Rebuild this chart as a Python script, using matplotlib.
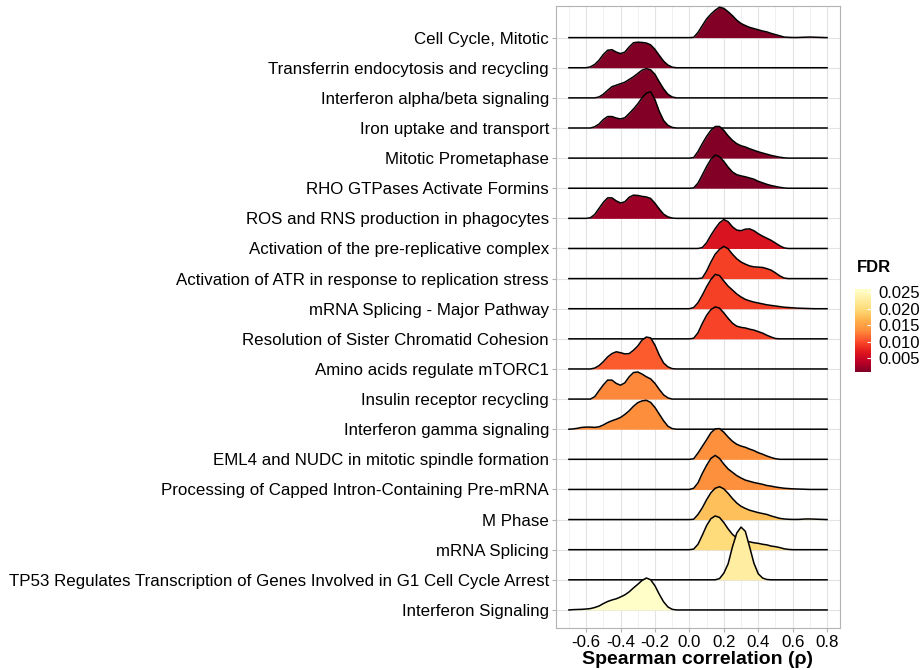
import numpy as np
import matplotlib as mpl
import matplotlib.pyplot as plt

mpl.rcParams['font.family'] = ['Liberation Sans', 'DejaVu Sans']
mpl.rcParams['axes.unicode_minus'] = False

# pathways, top to bottom
pathways = [
    "Cell Cycle, Mitotic",
    "Transferrin endocytosis and recycling",
    "Interferon alpha/beta signaling",
    "Iron uptake and transport",
    "Mitotic Prometaphase",
    "RHO GTPases Activate Formins",
    "ROS and RNS production in phagocytes",
    "Activation of the pre-replicative complex",
    "Activation of ATR in response to replication stress",
    "mRNA Splicing - Major Pathway",
    "Resolution of Sister Chromatid Cohesion",
    "Amino acids regulate mTORC1",
    "Insulin receptor recycling",
    "Interferon gamma signaling",
    "EML4 and NUDC in mitotic spindle formation",
    "Processing of Capped Intron-Containing Pre-mRNA",
    "M Phase",
    "mRNA Splicing",
    "TP53 Regulates Transcription of Genes Involved in G1 Cell Cycle Arrest",
    "Interferon Signaling",
]

fdr = [0.0009, 0.0009, 0.0009, 0.0009, 0.0009, 0.0009, 0.0023, 0.0063,
       0.0094, 0.0094, 0.0096, 0.0109, 0.0132, 0.0134, 0.0136, 0.0136,
       0.0177, 0.0200, 0.0229, 0.0258]

# density heights on a 0.025 grid of rho, each list starting at dens_start
step = 0.025
rho_min, rho_max = -0.7, 0.8
dens_start = [0.0, -0.6, -0.55, -0.575, 0.0, 0.0, -0.6, 0.05, 0.05, 0.0,
              0.0, -0.575, -0.575, -0.7, 0.0, 0.0, 0.0, 0.0, 0.15, -0.7]
dens = [
    [0, 0.01, 0.17, 0.40, 0.62, 0.78, 0.91, 1.01, 0.97, 0.86, 0.73, 0.58, 0.47, 0.40, 0.34, 0.30, 0.26,
     0.22, 0.19, 0.14, 0.10, 0.06, 0.02, 0.01, 0.005, 0.005, 0.01, 0.015, 0.02, 0.015, 0.01, 0.005, 0],
    [0, 0.03, 0.11, 0.25, 0.44, 0.58, 0.60, 0.52, 0.47, 0.52, 0.69, 0.83, 0.85, 0.84, 0.82, 0.76, 0.61,
     0.41, 0.22, 0.09, 0.02, 0],
    [0, 0.03, 0.12, 0.25, 0.37, 0.42, 0.47, 0.52, 0.61, 0.70, 0.81, 0.92, 0.97, 0.93, 0.78, 0.53, 0.30,
     0.12, 0.03, 0],
    [0, 0.04, 0.13, 0.28, 0.38, 0.38, 0.33, 0.30, 0.34, 0.48, 0.63, 0.80, 1.00, 1.16, 1.20, 0.94, 0.55,
     0.25, 0.09, 0.02, 0],
    [0, 0.02, 0.22, 0.48, 0.72, 0.92, 1.05, 1.05, 0.92, 0.74, 0.59, 0.48, 0.41, 0.37, 0.31, 0.26, 0.21,
     0.17, 0.13, 0.09, 0.06, 0.03, 0.01, 0],
    [0, 0.01, 0.17, 0.44, 0.72, 0.96, 1.10, 1.05, 0.89, 0.70, 0.54, 0.45, 0.41, 0.38, 0.34, 0.30, 0.23,
     0.18, 0.13, 0.09, 0.06, 0.03, 0.01, 0],
    [0, 0.02, 0.13, 0.33, 0.53, 0.68, 0.68, 0.58, 0.51, 0.55, 0.70, 0.77, 0.76, 0.73, 0.71, 0.66, 0.50,
     0.31, 0.14, 0.05, 0.01, 0],
    [0, 0.03, 0.19, 0.44, 0.66, 0.85, 0.96, 0.89, 0.72, 0.61, 0.59, 0.64, 0.65, 0.59, 0.49, 0.41, 0.34,
     0.27, 0.18, 0.09, 0.02, 0],
    [0, 0.02, 0.25, 0.55, 0.81, 0.97, 1.07, 0.99, 0.81, 0.66, 0.55, 0.48, 0.42, 0.39, 0.38, 0.37, 0.33,
     0.28, 0.19, 0.09, 0.02, 0],
    [0, 0.04, 0.20, 0.45, 0.73, 0.97, 1.14, 1.10, 0.92, 0.75, 0.62, 0.49, 0.39, 0.31, 0.26, 0.22, 0.19,
     0.16, 0.13, 0.11, 0.09, 0.07, 0.05, 0.04, 0.03, 0.02, 0.015, 0.01, 0.005, 0],
    [0, 0.02, 0.20, 0.51, 0.78, 0.97, 1.06, 1.02, 0.86, 0.68, 0.52, 0.42, 0.38, 0.36, 0.32, 0.29, 0.24,
     0.19, 0.12, 0.06, 0.01, 0],
    [0, 0.03, 0.11, 0.24, 0.40, 0.51, 0.57, 0.54, 0.50, 0.51, 0.62, 0.76, 0.96, 1.06, 1.03, 0.79, 0.46,
     0.20, 0.07, 0.01, 0],
    [0, 0.08, 0.28, 0.47, 0.63, 0.63, 0.52, 0.46, 0.54, 0.74, 0.88, 0.90, 0.83, 0.74, 0.67, 0.52, 0.32,
     0.14, 0.04, 0],
    [0, 0.01, 0.03, 0.06, 0.07, 0.07, 0.06, 0.08, 0.14, 0.22, 0.28, 0.33, 0.39, 0.49, 0.61, 0.76, 0.88,
     0.94, 0.96, 0.89, 0.72, 0.50, 0.28, 0.10, 0.02, 0],
    [0, 0.02, 0.21, 0.43, 0.65, 0.88, 1.01, 1.02, 0.90, 0.74, 0.60, 0.50, 0.44, 0.40, 0.34, 0.29, 0.22,
     0.17, 0.11, 0.06, 0.02, 0],
    [0, 0.04, 0.22, 0.53, 0.80, 1.03, 1.13, 1.03, 0.84, 0.68, 0.57, 0.46, 0.38, 0.31, 0.27, 0.23, 0.20,
     0.17, 0.13, 0.11, 0.08, 0.06, 0.04, 0.03, 0.02, 0.015, 0.01, 0.005, 0],
    [0, 0.01, 0.17, 0.39, 0.66, 0.89, 1.04, 1.09, 1.02, 0.87, 0.70, 0.55, 0.44, 0.37, 0.31, 0.27, 0.23,
     0.20, 0.17, 0.12, 0.08, 0.04, 0.02, 0.01, 0.005, 0.005, 0.01, 0.02, 0.02, 0.015, 0.01, 0.005, 0],
    [0, 0.02, 0.18, 0.48, 0.80, 1.03, 1.12, 1.07, 0.90, 0.69, 0.51, 0.39, 0.31, 0.28, 0.26, 0.23, 0.21,
     0.18, 0.16, 0.12, 0.10, 0.07, 0.03, 0.01, 0],
    [0, 0.04, 0.22, 0.53, 1.09, 1.55, 1.75, 1.61, 1.09, 0.55, 0.20, 0.06, 0.01, 0],
    [0, 0.01, 0.015, 0.02, 0.03, 0.045, 0.08, 0.13, 0.21, 0.28, 0.33, 0.37, 0.43, 0.50, 0.60, 0.73, 0.85,
     0.98, 1.06, 1.00, 0.80, 0.52, 0.27, 0.10, 0.02, 0],
]

xticks = [-0.6, -0.4, -0.2, 0.0, 0.2, 0.4, 0.6, 0.8]
fdr_ticks = [0.005, 0.010, 0.015, 0.020, 0.025]
fdr_lim = (0.0008, 0.026)

grid = np.round(np.arange(rho_min, rho_max + step / 2, step), 3)
n = len(pathways)

dpi = 100
fig = plt.figure(figsize=(923 / dpi, 670 / dpi), dpi=dpi)
ax = fig.add_axes([556 / 923, 1 - 628 / 670, 284 / 923, 622 / 670])

cmap = plt.get_cmap('YlOrRd_r')
norm = mpl.colors.Normalize(*fdr_lim)

# lower ridges are drawn over the ones above them
for k in range(n):
    base = n - 1 - k
    h = np.zeros(len(grid))
    i0 = int(round((dens_start[k] - rho_min) / step))
    h[i0:i0 + len(dens[k])] = dens[k]
    z = 10 + 2 * k
    ax.fill_between(grid, base, base + h, color=cmap(norm(fdr[k])), lw=0, zorder=z)
    ax.plot(grid, base + h, color='black', lw=1.1, zorder=z + 1, solid_joinstyle='round')

ax.set_xlim(-0.775, 0.875)
ax.set_ylim(-0.6, n - 1 + 1.05)
ax.set_yticks(range(n))
ax.set_yticklabels(pathways[::-1], fontsize=12.2)
ax.set_xticks(xticks)
ax.set_xticklabels([f'{v:.1f}' for v in xticks], fontsize=12.2)
ax.set_xticks(np.arange(-0.7, 0.81, 0.2), minor=True)
ax.grid(True, which='major', color='#e3e3e3', lw=0.8, zorder=0)
ax.grid(True, which='minor', axis='x', color='#eeeeee', lw=0.6, zorder=0)
ax.tick_params(axis='both', which='major', length=3, color='#b3b3b3', labelcolor='black', pad=2)
ax.tick_params(axis='x', which='minor', length=0)
for s in ax.spines.values():
    s.set_color('#b3b3b3')
    s.set_linewidth(0.8)
ax.set_axisbelow(True)
ax.set_xlabel('Spearman correlation (ρ)', fontsize=14, fontweight='bold', labelpad=1)

# FDR colour bar
cax = fig.add_axes([855 / 923, 1 - 372 / 670, 16 / 923, 83 / 670])
sm = mpl.cm.ScalarMappable(norm=norm, cmap=cmap)
cb = fig.colorbar(sm, cax=cax, ticks=fdr_ticks)
cb.outline.set_visible(False)
cb.ax.set_yticklabels([f'{v:.3f}' for v in fdr_ticks], fontsize=12)
cb.ax.tick_params(length=3, color='white', direction='in', pad=5)
fig.text(857 / 923, 1 - 268 / 670, 'FDR', fontsize=12, fontweight='bold', va='center', ha='left')

fig.savefig('out.png', dpi=dpi)
